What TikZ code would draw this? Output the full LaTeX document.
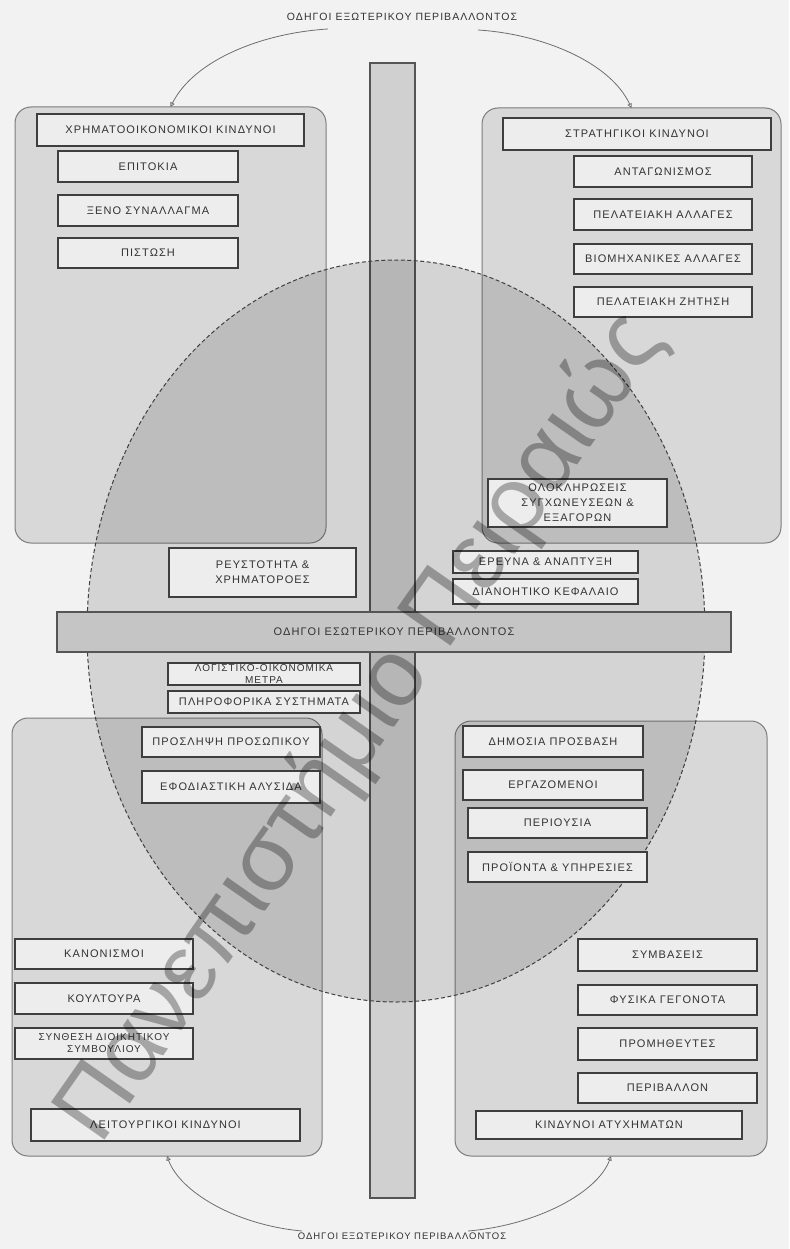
\documentclass[tikz,border=0pt]{standalone}
\usepackage{fontspec}
\setmainfont{Liberation Sans}[LetterSpace=10]
\newfontfamily\markfont{Liberation Sans}
\usetikzlibrary{arrows.meta,shapes.geometric}

\definecolor{paper}{HTML}{F2F2F2}
\definecolor{panelfill}{HTML}{D8D8D8}
\definecolor{panelline}{HTML}{7C7C7C}
\definecolor{barfill}{HTML}{D0D0D0}
\definecolor{crossfill}{HTML}{C5C5C5}
\definecolor{barline}{HTML}{555555}
\definecolor{boxfill}{HTML}{EDEDED}
\definecolor{boxline}{HTML}{3E3E3E}
\definecolor{ink}{HTML}{333333}
\definecolor{linkcol}{HTML}{6E6E6E}
\definecolor{ovalline}{HTML}{404040}

% a node covering the rectangle (x1,y1)-(x2,y2); arguments: style, name, x1, y1, x2, y2, text
\newcommand\spannode[7]{%
  \node[#1, minimum width={(#5-#3)*1pt}, minimum height={(#6-#4)*1pt}]
    (#2) at ({(#3+#5)/2},{(#4+#6)/2}) {#7};}

\begin{document}
\begin{tikzpicture}[x=1pt, y=-1pt,
  panel/.style={draw=panelline, line width=1pt, fill=panelfill, rounded corners=16pt, inner sep=0pt, outer sep=0pt},
  riskbox/.style={draw=boxline, line width=1.5pt, fill=boxfill, inner sep=0pt, outer sep=0pt, text=ink, align=center, font=\fontsize{11}{15}\selectfont},
  tight/.style={font=\fontsize{10}{12}\selectfont},
  bar/.style={draw=barline, line width=1.3pt, fill=barfill, inner sep=0pt, outer sep=0pt},
  crossbar/.style={bar, fill=crossfill, text=ink, font=\fontsize{11}{13}\selectfont},
  oval/.style={ellipse, draw=ovalline, line width=1pt, dash pattern=on 4pt off 2.5pt, fill=black, fill opacity=0.12, inner sep=0pt},
  extlabel/.style={text=ink, inner sep=1pt},
  link/.style={draw=linkcol, line width=0.8pt, -{Triangle[open, length=4.5pt, width=4.5pt]}},
]
\useasboundingbox (0,0) rectangle (789,1249);
\fill[paper] (0,0) rectangle (789,1249);

% the four risk panels
\spannode{panel}{fin}{15}{107}{326}{543}{}
\spannode{panel}{strat}{482}{108}{781}{543}{}
\spannode{panel}{oper}{12}{718}{322}{1156}{}
\spannode{panel}{haz}{455}{721}{767}{1156}{}

% vertical axis, the internal-drivers oval, horizontal axis
\spannode{bar}{vbar}{370}{63}{415}{1198}{}
\spannode{oval}{core}{87}{260}{705}{1002}{}
\spannode{crossbar}{hbar}{57}{612}{731}{652}{ΟΔΗΓΟΙ ΕΣΩΤΕΡΙΚΟΥ ΠΕΡΙΒΑΛΛΟΝΤΟΣ}

% financial risks
\spannode{riskbox}{fintitle}{37}{114}{304}{146}{ΧΡΗΜΑΤΟΟΙΚΟΝΟΜΙΚΟΙ ΚΙΝΔΥΝΟΙ}
\spannode{riskbox}{rates}{58}{151}{238}{182}{ΕΠΙΤΟΚΙΑ}
\spannode{riskbox}{fx}{58}{195}{238}{226}{ΞΕΝΟ ΣΥΝΑΛΛΑΓΜΑ}
\spannode{riskbox}{credit}{58}{238}{238}{268}{ΠΙΣΤΩΣΗ}

% strategic risks
\spannode{riskbox}{strattitle}{503}{118}{771}{150}{ΣΤΡΑΤΗΓΙΚΟΙ ΚΙΝΔΥΝΟΙ}
\spannode{riskbox}{compet}{574}{156}{752}{187}{ΑΝΤΑΓΩΝΙΣΜΟΣ}
\spannode{riskbox}{custchg}{574}{199}{752}{230}{ΠΕΛΑΤΕΙΑΚΗ ΑΛΛΑΓΕΣ}
\spannode{riskbox}{indchg}{574}{244}{752}{274}{ΒΙΟΜΗΧΑΝΙΚΕΣ ΑΛΛΑΓΕΣ}
\spannode{riskbox}{demand}{574}{287}{752}{317}{ΠΕΛΑΤΕΙΑΚΗ ΖΗΤΗΣΗ}
\spannode{riskbox}{merger}{488}{479}{667}{527}{ΟΛΟΚΛΗΡΩΣΕΙΣ\\ΣΥΓΧΩΝΕΥΣΕΩΝ \&\\ΕΞΑΓΟΡΩΝ}

% internal drivers around the axes
\spannode{riskbox}{liquid}{169}{548}{356}{597}{ΡΕΥΣΤΟΤΗΤΑ \&\\ΧΡΗΜΑΤΟΡΟΕΣ}
\spannode{riskbox}{rnd}{453}{551}{638}{573}{ΕΡΕΥΝΑ \& ΑΝΑΠΤΥΞΗ}
\spannode{riskbox}{intel}{453}{579}{638}{604}{ΔΙΑΝΟΗΤΙΚΟ ΚΕΦΑΛΑΙΟ}
\spannode{riskbox,tight}{acct}{168}{663}{360}{685}{ΛΟΓΙΣΤΙΚΟ-ΟΙΚΟΝΟΜΙΚΑ\\ΜΕΤΡΑ}
\spannode{riskbox}{infosys}{168}{691}{360}{713}{ΠΛΗΡΟΦΟΡΙΚΑ ΣΥΣΤΗΜΑΤΑ}

% operational risks
\spannode{riskbox}{hire}{142}{727}{320}{757}{ΠΡΟΣΛΗΨΗ ΠΡΟΣΩΠΙΚΟΥ}
\spannode{riskbox}{supply}{142}{771}{320}{803}{ΕΦΟΔΙΑΣΤΙΚΗ ΑΛΥΣΙΔΑ}
\spannode{riskbox}{rules}{15}{939}{193}{969}{ΚΑΝΟΝΙΣΜΟΙ}
\spannode{riskbox}{culture}{15}{983}{193}{1014}{ΚΟΥΛΤΟΥΡΑ}
\spannode{riskbox,tight}{board}{15}{1028}{193}{1059}{ΣΥΝΘΕΣΗ ΔΙΟΙΚΗΤΙΚΟΥ\\ΣΥΜΒΟΥΛΙΟΥ}
\spannode{riskbox}{optitle}{31}{1109}{300}{1141}{ΛΕΙΤΟΥΡΓΙΚΟΙ ΚΙΝΔΥΝΟΙ}

% hazard risks
\spannode{riskbox}{access}{463}{726}{643}{757}{ΔΗΜΟΣΙΑ ΠΡΟΣΒΑΣΗ}
\spannode{riskbox}{staff}{463}{770}{643}{800}{ΕΡΓΑΖΟΜΕΝΟΙ}
\spannode{riskbox}{assets}{468}{808}{647}{838}{ΠΕΡΙΟΥΣΙΑ}
\spannode{riskbox}{products}{468}{852}{647}{882}{ΠΡΟΪΟΝΤΑ \& ΥΠΗΡΕΣΙΕΣ}
\spannode{riskbox}{contracts}{578}{939}{757}{971}{ΣΥΜΒΑΣΕΙΣ}
\spannode{riskbox}{natural}{578}{985}{757}{1015}{ΦΥΣΙΚΑ ΓΕΓΟΝΟΤΑ}
\spannode{riskbox}{suppliers}{578}{1028}{757}{1060}{ΠΡΟΜΗΘΕΥΤΕΣ}
\spannode{riskbox}{environ}{578}{1073}{757}{1103}{ΠΕΡΙΒΑΛΛΟΝ}
\spannode{riskbox}{haztitle}{476}{1111}{742}{1139}{ΚΙΝΔΥΝΟΙ ΑΤΥΧΗΜΑΤΩΝ}

% external drivers and their links to the panels
\node[extlabel, font=\fontsize{10.5}{12}\selectfont] (exttop) at (402,17) {ΟΔΗΓΟΙ ΕΞΩΤΕΡΙΚΟΥ ΠΕΡΙΒΑΛΛΟΝΤΟΣ};
\node[extlabel, font=\fontsize{9.5}{11}\selectfont] (extbot) at (402,1236) {ΟΔΗΓΟΙ ΕΞΩΤΕΡΙΚΟΥ ΠΕΡΙΒΑΛΛΟΝΤΟΣ};
\coordinate (tl0) at (328,29);
\coordinate (tr0) at (478,30);
\coordinate (bl0) at (302,1231);
\coordinate (br0) at (468,1231);
\draw[link] (tl0) .. controls (262,33) and (194,60) .. (fin.north);
\draw[link] (tr0) .. controls (542,34) and (610,62) .. (strat.north);
\draw[link] (bl0) .. controls (236,1225) and (180,1192) .. (oper.south);
\draw[link] (br0) .. controls (538,1225) and (598,1192) .. (haz.south);

% repository watermark
\node[rotate=55, text=black, text opacity=0.3, inner sep=0pt,
      font=\markfont\fontsize{95}{95}\selectfont] (mark) at (362,728) {Πανεπιστήμιο Πειραιώς};
\end{tikzpicture}
\end{document}
